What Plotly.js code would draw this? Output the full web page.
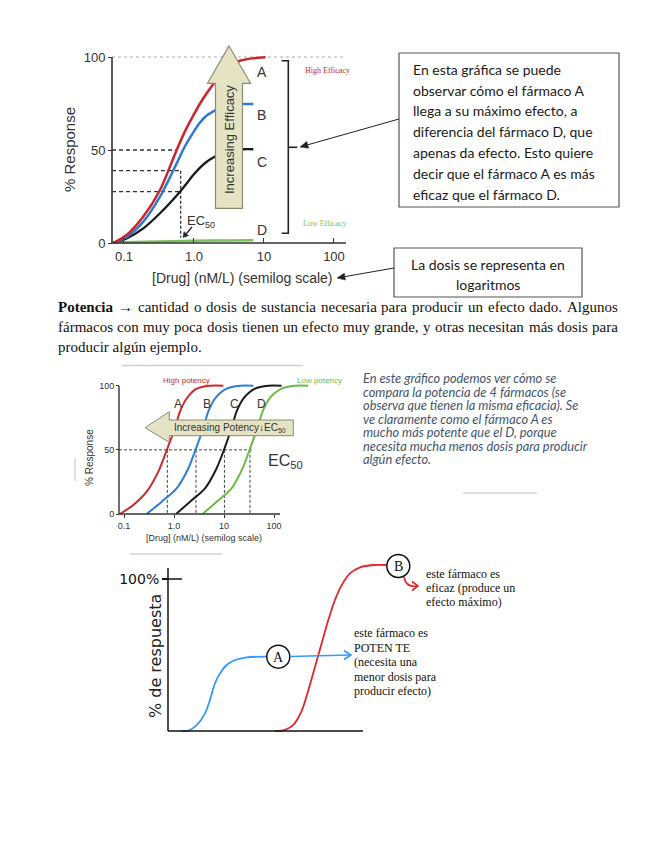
<!DOCTYPE html>
<html><head><meta charset="utf-8">
<script src="https://cdn.plot.ly/plotly-3.0.1.min.js"></script>
<style>html,body{margin:0;padding:0;background:#fff;}#chart{width:655px;height:848px;}</style>
</head><body><div id="chart"></div>
<script>
// ===== DATA =====
// Chart 1: efficacy (x = [Drug] nM/L, y = % response)
const effA_x = [0.07, 0.109, 0.189, 0.327, 0.566, 0.743, 0.977, 1.22, 1.52, 1.89, 2.4, 3.09, 4.54, 7.04, 10.5];
const effA_y = [0, 4.3, 14.2, 28.5, 50, 60, 68.5, 75, 80.5, 85.5, 90.5, 94.8, 98, 99.3, 99.8];
const effB_x = [0.07, 0.109, 0.189, 0.327, 0.566, 0.743, 0.977, 1.22, 1.52, 1.89, 2.4, 3.09, 4.8, 7.04];
const effB_y = [0, 3.2, 11.5, 24.9, 42.8, 52, 59.5, 64.8, 68.5, 70.8, 72.6, 73.8, 74.7, 74.7];
const effC_x = [0.07, 0.109, 0.189, 0.327, 0.631, 0.977, 1.22, 1.52, 1.89, 2.4, 3.09, 5.07, 7.04];
const effC_y = [0, 2.5, 7.9, 16, 27.6, 36.5, 40.5, 43.7, 46, 48, 49.4, 50.4, 50.4];
const effD_x = [0.07, 0.2, 0.5, 1.0, 3.0, 7.04];
const effD_y = [0.3, 0.7, 1.0, 1.2, 1.4, 1.5];
const effLabels = ['A', 'B', 'C', 'D'];
const effDashY = [50, 38.9, 27.6];
const effDashX = [0.566, 0.64, 0.64];
const effEC50 = 0.645;
const effTickVals = [0.1, 1, 10, 100];
const effTickText = ['0.1', '1.0', '10', '100'];
const respTickVals = [0, 50, 100];

// Chart 2: potency
const potA_x = [0.083, 0.153, 0.284, 0.486, 0.736, 1.05, 1.32, 1.79, 2.84, 5.25, 9.7];
const potA_y = [0, 7, 17.4, 33, 51, 67, 80, 90, 97.7, 100, 100];
const potB_x = [0.284, 0.567, 1.13, 1.94, 2.75, 3.86, 4.86, 6.6, 11.3, 20.9, 38.6];
const potB_y = [0, 9.6, 20, 35.7, 51, 67, 80, 90, 97.7, 100, 100];
const potC_x = [1.1, 2.09, 4.17, 7.13, 10.2, 14.2, 17.9, 24.4, 41.7, 77, 142];
const potC_y = [0, 9.6, 20, 35.7, 51, 67, 80, 90, 97.7, 100, 100];
const potD_x = [3.74, 7.13, 14.2, 23.6, 33.1, 46.4, 59.3, 80.7, 142, 263, 486];
const potD_y = [0, 9.6, 20, 35.7, 51, 67, 80, 90, 97.7, 100, 100];
const potEC50 = [0.736, 2.75, 10.2, 33.1];
const potLabels = ['A', 'B', 'C', 'D'];

// Chart 3: sketch (arbitrary dose units, % respuesta)
const skA_x = [7.0, 10.4, 14.7, 19.0, 21.5, 24.1, 26.7, 30.1, 34.4, 40.3, 50.6];
const skA_y = [0, 0.3, 3.9, 11.6, 20.4, 31.4, 38, 43.4, 46.7, 48.5, 48.9];
const skB_x = [54.9, 60, 64.3, 68.5, 72, 75.4, 78.8, 82.2, 85.6, 89.1, 93.3, 98.5, 105.3, 112.2];
const skB_y = [0, 0.8, 4, 13, 27, 42.3, 57.7, 73, 86.2, 96, 103.7, 107.7, 109.2, 109.2];

// ===== HELPERS =====
const W = 655, H = 848;
const X = p => p / W;
const Y = p => 1 - p / H;

function curve(x, y, color, width, xa, ya, dash, spline) {
  return {type: 'scatter', mode: 'lines', x: x, y: y, xaxis: xa, yaxis: ya,
    line: {color: color, width: width, dash: dash || 'solid', shape: spline ? 'spline' : 'linear', smoothing: 0.85},
    hoverinfo: 'skip', showlegend: false};
}
function txt(px, py, text, font, xanchor, extra) {
  return Object.assign({xref: 'paper', yref: 'paper', x: X(px), y: Y(py), text: text, showarrow: false,
    xanchor: xanchor || 'center', yanchor: 'middle', font: font}, extra || {});
}
function seg(x0, y0, x1, y1, color, width, dash) {
  return {type: 'line', xref: 'paper', yref: 'paper', x0: X(x0), y0: Y(y0), x1: X(x1), y1: Y(y1),
    line: {color: color, width: width, dash: dash || 'solid'}, layer: 'above'};
}
function poly(pts, fill, color, width, close) {
  const d = 'M ' + pts.map(p => X(p[0]) + ',' + Y(p[1])).join(' L ') + (close ? ' Z' : '');
  return {type: 'path', xref: 'paper', yref: 'paper', path: d, fillcolor: fill, line: {color: color, width: width}, layer: 'above'};
}
function circ(cx, cy, r) {
  return {type: 'circle', xref: 'paper', yref: 'paper', x0: X(cx - r), x1: X(cx + r), y0: Y(cy + r), y1: Y(cy - r),
    line: {color: '#111', width: 1.5}, fillcolor: '#fff', layer: 'above'};
}

// ===== TRACES =====
const c1 = {red: '#c8262c', blue: '#2b7bd0', black: '#1a1a1a', green: '#79c257'};
const c2 = {red: '#cc2a2a', blue: '#2d7fd3', black: '#1c1c1c', green: '#6cb84b'};
const axStart1 = Math.pow(10, -1.1714);
const axStart2 = Math.pow(10, -1.1);

const traces = [];
effDashY.forEach((yv, i) => traces.push(curve([axStart1, effDashX[i]], [yv, yv], '#333', 1.3, 'x', 'y', '4px,3px')));
traces.push(curve([effEC50, effEC50], [effDashY[1], 3], '#333', 1.3, 'x', 'y', '3px,2px'));
traces.push(curve(effD_x, effD_y, c1.green, 2.5, 'x', 'y', null, true));
traces.push(curve(effC_x, effC_y, c1.black, 2.3, 'x', 'y', null, true));
traces.push(curve(effB_x, effB_y, c1.blue, 2.5, 'x', 'y', null, true));
traces.push(curve(effA_x, effA_y, c1.red, 2.5, 'x', 'y', null, true));
traces.push(curve([axStart2, 35.8], [50, 50], '#444', 1, 'x2', 'y2', '3px,2px'));
potEC50.forEach(v => traces.push(curve([v, v], [50, 0], '#444', 1, 'x2', 'y2', '3px,2px')));
traces.push(curve(potA_x, potA_y, c2.red, 2, 'x2', 'y2', null, true));
traces.push(curve(potB_x, potB_y, c2.blue, 2, 'x2', 'y2', null, true));
traces.push(curve(potC_x, potC_y, c2.black, 2, 'x2', 'y2', null, true));
traces.push(curve(potD_x, potD_y, c2.green, 2, 'x2', 'y2', null, true));
traces.push(curve(skA_x, skA_y, '#3399ff', 1.8, 'x3', 'y3', null, true));
traces.push(curve(skB_x, skB_y, '#e3242b', 1.8, 'x3', 'y3', null, true));

// ===== LAYOUT =====
const sans = 'Liberation Sans, Arial, sans-serif';
const serif = 'Liberation Serif, Times New Roman, serif';
const calib = 'Lato, Open Sans, sans-serif';
const f = (size, color, family) => ({size: size, color: color || '#333', family: family || sans});
const baseAx = {showgrid: false, zeroline: false, showline: false, fixedrange: true, anchor: 'free'};

const layout = {
  width: W, height: H, margin: {l: 0, r: 0, t: 0, b: 0},
  paper_bgcolor: '#fff', plot_bgcolor: 'rgba(0,0,0,0)', showlegend: false,
  xaxis: Object.assign({}, baseAx, {type: 'log', domain: [X(106), X(350)], range: [-1.257, 2.229], position: Y(243),
    tickvals: effTickVals, ticktext: effTickText, ticks: 'inside', ticklen: 5, tickcolor: '#333',
    ticklabelstandoff: 4, tickfont: f(13, '#333')}),
  yaxis: Object.assign({}, baseAx, {domain: [Y(248.58), Y(51.42)], range: [-3, 103], position: X(112),
    tickvals: respTickVals, ticks: 'outside', ticklen: 4, tickcolor: '#333', tickfont: f(13, '#333')}),
  xaxis2: Object.assign({}, baseAx, {type: 'log', domain: [X(115), X(312)], range: [-1.18, 2.76], position: Y(514),
    tickvals: effTickVals, ticktext: effTickText, ticks: 'outside', ticklen: 3, tickcolor: '#333', tickfont: f(9, '#333')}),
  yaxis2: Object.assign({}, baseAx, {domain: [Y(517.85), Y(381.85)], range: [-3, 103], position: X(119),
    tickvals: respTickVals, ticks: 'outside', ticklen: 3, tickcolor: '#333', tickfont: f(9, '#333')}),
  xaxis3: Object.assign({}, baseAx, {domain: [X(164), X(402)], range: [-2.05, 120], position: Y(731),
    showticklabels: false, ticks: ''}),
  yaxis3: Object.assign({}, baseAx, {domain: [Y(735.56), Y(560)], range: [-3, 112.5], position: X(168),
    tickvals: [100], ticktext: ['100%'], ticks: 'outside', ticklen: 6, tickwidth: 1.5, tickcolor: '#111',
    tickfont: f(14, '#111', 'DejaVu Sans, sans-serif')}),
  shapes: [], annotations: []
};
const S = layout.shapes, A = layout.annotations;

function arrowS(tx, ty, fx, fy, color, width, hl, hw) {
  const dx = tx - fx, dy = ty - fy, L = Math.sqrt(dx * dx + dy * dy);
  const ux = dx / L, uy = dy / L, bx = tx - ux * hl, by = ty - uy * hl;
  S.push(seg(fx, fy, bx, by, color, width));
  S.push(poly([[tx, ty], [bx - uy * hw, by + ux * hw], [bx + uy * hw, by - ux * hw]], color, color, 0.5, true));
}

// ---- Chart 1 decorations ----
S.push({type: 'line', xref: 'paper', yref: 'y', x0: X(112), x1: X(346), y0: 100, y1: 100, line: {color: '#aaa', width: 1, dash: 'dot'}, layer: 'below'});
S.push(seg(112, 243, 346, 243, '#333', 1.6));
S.push(seg(112, 243, 112, 57, '#333', 1.6));
S.push(poly([[229, 46], [250.5, 83.3], [242.5, 83.3], [242.5, 208.3], [215.5, 208.3], [215.5, 83.3], [207.5, 83.3]], '#e5e3c3', '#8c8b72', 1.2, true));
A.push(txt(229, 140, 'Increasing Efficacy', f(13, '#333'), 'center', {textangle: -90}));
S.push(poly([[281.7, 60.7], [288.3, 60.7], [288.3, 233.3], [281.7, 233.3]], 'rgba(0,0,0,0)', '#222', 1.6, false));
S.push(seg(288.3, 147.3, 297.3, 147.3, '#222', 1.6));
const effLabelY = [71.7, 115, 161.7, 230];
effLabels.forEach((l, i) => A.push(txt(261.7, effLabelY[i], l, f(14, '#333'))));
A.push(txt(327, 70.7, 'High Efficacy', f(8, c1.red, serif)));
A.push(txt(325, 223.3, 'Low Efficacy', f(8, c1.green, serif)));
A.push(txt(201, 221, 'EC<sub>50</sub>', f(13, '#333')));
arrowS(183, 237.5, 192, 227, '#222', 1.3, 5, 3);
A.push(txt(70, 150, '% Response', f(15, '#333'), 'center', {textangle: -90}));
A.push(txt(242, 278, '[Drug] (nM/L) (semilog scale)', f(14, '#333')));

// ---- Box 1 ----
S.push({type: 'rect', xref: 'paper', yref: 'paper', x0: X(399), x1: X(619), y0: Y(207), y1: Y(53), line: {color: '#555', width: 1.2}, fillcolor: 'rgba(0,0,0,0)', layer: 'above'});
const box1 = ['En esta gráfica se puede', 'observar cómo el fármaco A', 'llega a su máximo efecto, a',
  'diferencia del fármaco D, que', 'apenas da efecto. Esto quiere', 'decir que el fármaco A es más', 'eficaz que el fármaco D.'];
box1.forEach((t, i) => A.push(txt(410.7, 69.3 + i * 20.8, t, f(14, '#1a1a1a', calib), 'left')));
arrowS(300, 147, 399, 119, '#222', 1, 8, 3.5);

// ---- Box 2 ----
S.push({type: 'rect', xref: 'paper', yref: 'paper', x0: X(394), x1: X(582), y0: Y(297), y1: Y(248), line: {color: '#555', width: 1.2}, fillcolor: 'rgba(0,0,0,0)', layer: 'above'});
A.push(txt(488, 264, 'La dosis se representa en', f(14, '#1a1a1a', calib)));
A.push(txt(488, 284, 'logaritmos', f(14, '#1a1a1a', calib)));
arrowS(337, 278, 394, 268, '#222', 1, 8, 3.5);

// ---- Paragraph (justified lines) ----
const ctx = document.createElement('canvas').getContext('2d');
function measure(t, size, bold) { ctx.font = (bold ? 'bold ' : '') + size + 'px "Liberation Serif"'; return ctx.measureText(t).width; }
function justifyLine(words, left, right, py, size) {
  const widths = words.map(w => measure(w.t, size, w.b));
  const gap = (right - left - widths.reduce((a, b) => a + b, 0)) / (words.length - 1);
  let x = left;
  words.forEach((w, i) => {
    A.push(txt(x - 1, py, w.b ? '<b>' + w.t + '</b>' : w.t, f(size, '#111', serif), 'left'));
    x += widths[i] + gap;
  });
}
const paraLine1 = 'Potencia → cantidad o dosis de sustancia necesaria para producir un efecto dado. Algunos';
const paraLine2 = 'fármacos con muy poca dosis tienen un efecto muy grande, y otras necesitan más dosis para';
const paraLine3 = 'producir algún ejemplo.';
justifyLine(paraLine1.split(' ').map((t, i) => ({t: t, b: i === 0})), 57, 617, 307, 15);
justifyLine(paraLine2.split(' ').map(t => ({t: t, b: false})), 57, 617, 327, 15);
A.push(txt(56, 347, paraLine3, f(15, '#111', serif), 'left'));

// ---- Chart 2 decorations ----
S.push(seg(119, 514, 280, 514, '#333', 1.4));
S.push(seg(119, 514, 119, 385.7, '#333', 1.4));
S.push(poly([[145, 427.7], [169.3, 411.7], [169.3, 420], [293.3, 420], [293.3, 435.7], [169.3, 435.7], [169.3, 442.3]], '#e5e3c3', '#8c8b72', 1, true));
A.push(txt(230, 428.3, 'Increasing Potency↓EC<sub>50</sub>', f(10, '#333')));
const potLabelX = [178, 206.7, 234.3, 261.7];
potLabels.forEach((l, i) => A.push(txt(potLabelX[i], 404.3, l, f(12, '#333'))));
A.push(txt(186.7, 380, 'High potency', f(8, c2.red)));
A.push(txt(319, 380, 'Low potency', f(8, c2.green)));
A.push(txt(266, 462, 'EC<sub>50</sub>', f(16, '#333'), 'left'));
A.push(txt(89, 458, '% Response', f(10, '#333'), 'center', {textangle: -90}));
A.push(txt(204, 538, '[Drug] (nM/L) (semilog scale)', f(9, '#333')));
S.push(seg(122, 365.5, 303, 365.5, '#d0d0d0', 1.5));
S.push(seg(463, 493, 537, 493, '#d6d6d6', 1.5));
S.push(seg(130, 554, 222, 554, '#d6d6d6', 1.5));
S.push(seg(75, 458, 75, 481, '#d6d6d6', 1.5));

// ---- Chart 2 text ----
const box3 = ['En este gráfico podemos ver cómo se', 'compara la potencia de 4 fármacos (se',
  'observa que tienen la misma eficacia). Se', 've claramente como el fármaco A es',
  'mucho más potente que el D, porque', 'necesita mucha menos dosis para producir', 'algún efecto.'];
box3.forEach((t, i) => A.push(txt(362, 378 + i * 13.5, '<i>' + t + '</i>', f(12.8, '#44546a', calib), 'left', {height: 16, borderpad: 0})));

// ---- Chart 3 decorations ----
S.push(seg(168, 731, 363, 731, '#111', 1.5));
S.push(seg(168, 731, 168, 568, '#111', 1.5));
S.push(seg(168, 579, 182, 579, '#111', 1.5));
A.push(txt(155, 656, '% de respuesta', f(16, '#222', 'DejaVu Sans, sans-serif'), 'center', {textangle: -90}));
S.push(circ(278.3, 656.7, 11.5));
S.push(circ(398.3, 566, 11.5));
A.push(txt(278.3, 657, 'A', f(14, '#111', serif)));
A.push(txt(398.3, 566.5, 'B', f(14, '#111', serif)));
S.push(seg(290, 656.5, 350, 655, '#3399ff', 1.6));
S.push(poly([[344, 650.5], [351, 655], [344, 659.5]], 'rgba(0,0,0,0)', '#3399ff', 1.6, false));
S.push({type: 'path', xref: 'paper', yref: 'paper', path: 'M ' + X(404) + ',' + Y(577) + ' Q ' + X(406) + ',' + Y(588) + ' ' + X(417) + ',' + Y(586),
  fillcolor: 'rgba(0,0,0,0)', line: {color: '#e3242b', width: 1.6}, layer: 'above'});
S.push(poly([[412, 581.5], [418, 586], [412, 590.5]], 'rgba(0,0,0,0)', '#e3242b', 1.6, false));
const sk1 = ['este fármaco es', 'eficaz (produce un', 'efecto máximo)'];
sk1.forEach((t, i) => A.push(txt(425, 574 + i * 14, t, f(12, '#111', serif), 'left', {height: 14, borderpad: 0})));
const sk2 = ['este fármaco es', 'POTEN TE', '(necesita una', 'menor dosis para', 'producir efecto)'];
sk2.forEach((t, i) => A.push(txt(353, 633.3 + i * 14.4, t, f(12, '#111', serif), 'left', {height: 14, borderpad: 0})));

Plotly.newPlot('chart', traces, layout, {staticPlot: true, displayModeBar: false});
</script>
</body></html>
